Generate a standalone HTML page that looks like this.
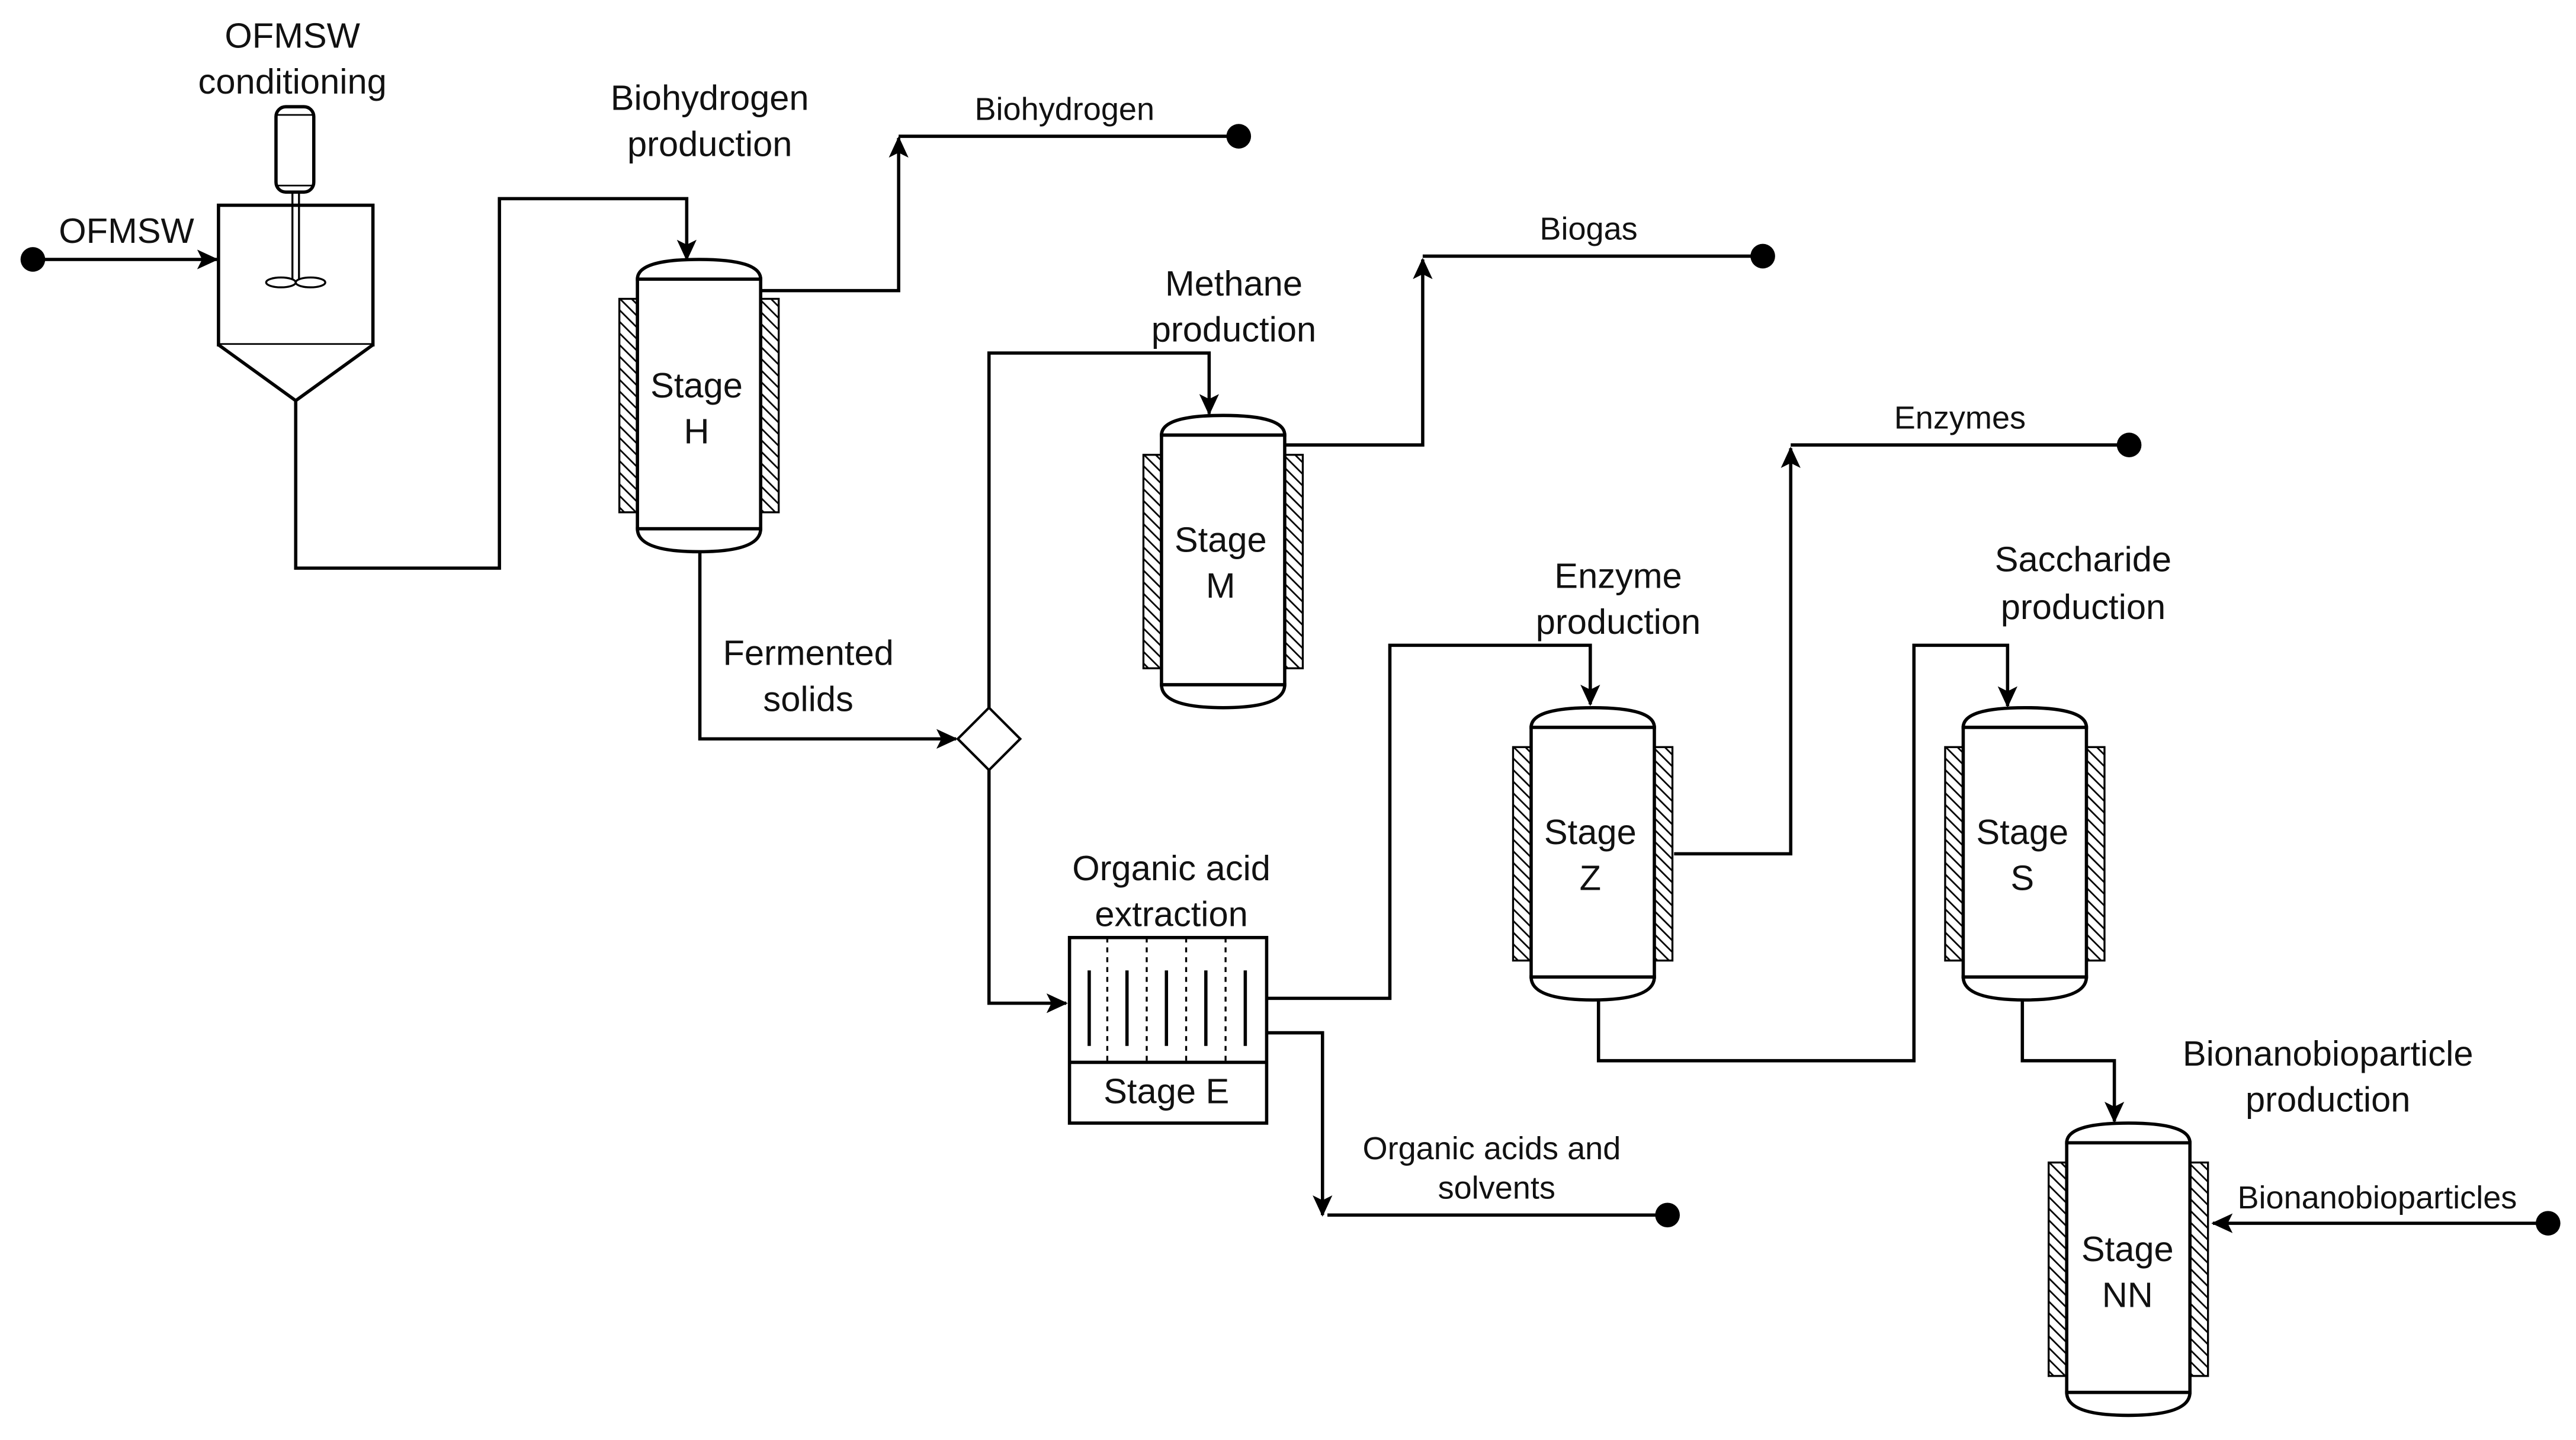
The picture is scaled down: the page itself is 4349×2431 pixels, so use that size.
<!DOCTYPE html>
<html><head><meta charset="utf-8"><style>html,body{margin:0;padding:0;background:#fff}svg{display:block}</style></head>
<body>
<svg width="4349" height="2431" viewBox="0 0 1568 877" preserveAspectRatio="none" xmlns="http://www.w3.org/2000/svg" font-family="Liberation Sans, sans-serif">
<defs>
<pattern id="h" width="5" height="5" patternUnits="userSpaceOnUse" patternTransform="rotate(-45)"><line x1="0" y1="0" x2="0" y2="5" stroke="#000" stroke-width="2"/></pattern>
<marker id="a" markerWidth="13" markerHeight="12" refX="12" refY="6" orient="auto" markerUnits="userSpaceOnUse"><path d="M0,0 L13,6 L0,12 L3,6 Z" fill="#000"/></marker>
<g id="v">
<rect x="-11" y="24" width="11" height="130" fill="url(#h)" stroke="#000" stroke-width="1.2"/>
<rect x="75" y="24" width="11" height="130" fill="url(#h)" stroke="#000" stroke-width="1.2"/>
<path d="M0,12 Q0,0 37.5,0 Q75,0 75,12 Z" fill="#fff" stroke="#000" stroke-width="2"/>
<path d="M0,164 Q0,178 37.5,178 Q75,178 75,164 Z" fill="#fff" stroke="#000" stroke-width="2"/>
<rect x="0" y="12" width="75" height="152" fill="#fff" stroke="#000" stroke-width="2"/>
</g>
</defs>
<rect width="1568" height="877" fill="#fff"/>
<g fill="none" stroke="#000" stroke-width="2">
<path d="M20,158 H132" marker-end="url(#a)"/>
<path d="M180,244 V346 H304 V121 H418 V158" marker-end="url(#a)"/>
<path d="M463,177 H547 V84" marker-end="url(#a)"/>
<path d="M547,83 H754"/>
<path d="M426,336 V450 H582" marker-end="url(#a)"/>
<path d="M602,431 V215 H736 V252" marker-end="url(#a)"/>
<path d="M782,271 H866 V158" marker-end="url(#a)"/>
<path d="M866,156 H1073"/>
<path d="M602,469 V611 H649" marker-end="url(#a)"/>
<path d="M771,608 H846 V393 H968 V429" marker-end="url(#a)"/>
<path d="M771,629 H805 V740" marker-end="url(#a)"/>
<path d="M808,740 H1015"/>
<path d="M1019,520 H1090 V273" marker-end="url(#a)"/>
<path d="M1090,271 H1296"/>
<path d="M973,609 V646 H1165 V393 H1222 V430" marker-end="url(#a)"/>
<path d="M1231,609 V646 H1287 V683" marker-end="url(#a)"/>
<path d="M1551,745 H1347" marker-end="url(#a)"/>
</g>
<g fill="#000">
<circle cx="20" cy="158" r="7.5"/><circle cx="754" cy="83" r="7.5"/><circle cx="1073" cy="156" r="7.5"/>
<circle cx="1015" cy="740" r="7.5"/><circle cx="1296" cy="271" r="7.5"/><circle cx="1551" cy="745" r="7.5"/>
</g>
<g fill="#fff" stroke="#000" stroke-width="2">
<rect x="133" y="125" width="94" height="85"/>
<path d="M133,210 L180,244 L227,210"/>
<rect x="168" y="65" width="23" height="52" rx="6"/>
<line x1="168" y1="70" x2="191" y2="70" stroke-width="1"/>
<line x1="168" y1="113" x2="191" y2="113" stroke-width="1"/>
<line x1="178" y1="117" x2="178" y2="170" stroke-width="1.2"/>
<line x1="182" y1="117" x2="182" y2="170" stroke-width="1.2"/>
<ellipse cx="171" cy="172" rx="9" ry="3" stroke-width="1.2"/>
<ellipse cx="189" cy="172" rx="9" ry="3" stroke-width="1.2"/>
</g>
<use href="#v" x="388" y="158"/>
<use href="#v" x="707" y="253"/>
<use href="#v" x="932" y="431"/>
<use href="#v" x="1195" y="431"/>
<use href="#v" x="1258" y="684"/>
<path d="M602,431 L621,450 L602,469 L583,450 Z" fill="#fff" stroke="#000" stroke-width="1.5"/>
<g stroke="#000" fill="none">
<rect x="651" y="571" width="120" height="113" stroke-width="2"/>
<line x1="651" y1="647" x2="771" y2="647" stroke-width="2"/>
<g stroke-width="2"><line x1="663" y1="591" x2="663" y2="637"/><line x1="686" y1="591" x2="686" y2="637"/><line x1="710" y1="591" x2="710" y2="637"/><line x1="734" y1="591" x2="734" y2="637"/><line x1="758" y1="591" x2="758" y2="637"/></g>
<g stroke-width="1.2" stroke-dasharray="3,3"><line x1="674" y1="571" x2="674" y2="647"/><line x1="698" y1="571" x2="698" y2="647"/><line x1="722" y1="571" x2="722" y2="647"/><line x1="746" y1="571" x2="746" y2="647"/></g>
</g>
<g font-size="21.5" text-anchor="middle" fill="#111">
<text x="178" y="29">OFMSW</text><text x="178" y="57">conditioning</text>
<text x="77" y="148">OFMSW</text>
<text x="432" y="67">Biohydrogen</text><text x="432" y="95">production</text>
<text x="424" y="242">Stage</text><text x="424" y="270">H</text>
<text x="492" y="405">Fermented</text><text x="492" y="433">solids</text>
<text x="751" y="180">Methane</text><text x="751" y="208">production</text>
<text x="743" y="336">Stage</text><text x="743" y="364">M</text>
<text x="713" y="536">Organic acid</text><text x="713" y="564">extraction</text>
<text x="710" y="672">Stage E</text>
<text x="985" y="358">Enzyme</text><text x="985" y="386">production</text>
<text x="968" y="514">Stage</text><text x="968" y="542">Z</text>
<text x="1268" y="348">Saccharide</text><text x="1268" y="377">production</text>
<text x="1231" y="514">Stage</text><text x="1231" y="542">S</text>
<text x="1417" y="649">Bionanobioparticle</text><text x="1417" y="677">production</text>
<text x="1295" y="768">Stage</text><text x="1295" y="796">NN</text>
</g>
<g font-size="19.5" text-anchor="middle" fill="#111">
<text x="648" y="73">Biohydrogen</text>
<text x="967" y="146">Biogas</text>
<text x="1193" y="261">Enzymes</text>
<text x="908" y="706">Organic acids and</text><text x="911" y="730">solvents</text>
<text x="1447" y="736">Bionanobioparticles</text>
</g>
</svg>
</body></html>
